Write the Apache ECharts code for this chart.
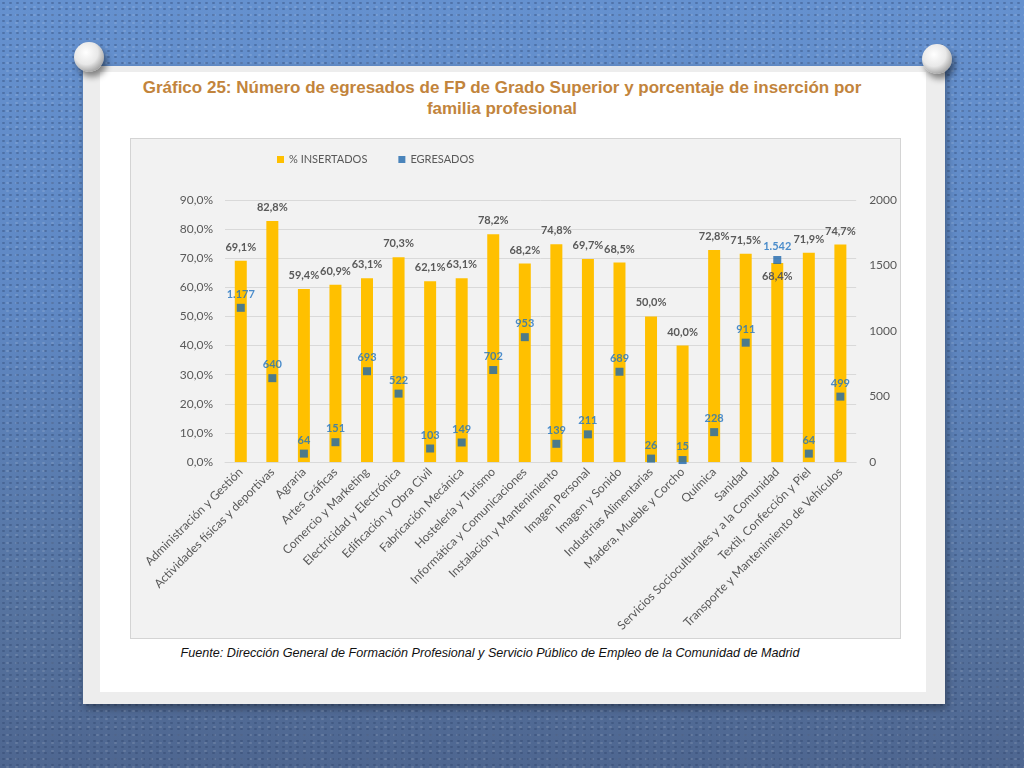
<!DOCTYPE html>
<html>
<head>
<meta charset="utf-8">
<script src="https://cdn.jsdelivr.net/npm/echarts@6/dist/echarts.min.js"></script>
<style>
  html, body { margin:0; padding:0; width:1024px; height:768px; overflow:hidden; }
  #bg { position:absolute; left:0; top:0; width:1024px; height:768px;
        background: linear-gradient(180deg, #6591cf 0%, #5f88c4 40%, #56739f 80%, #4e6690 100%); }
  #tex { position:absolute; left:0; top:0; width:1024px; height:768px;
         background-image: radial-gradient(rgba(40,60,100,0.35) 1px, transparent 1.6px),
                           radial-gradient(rgba(255,255,255,0.12) 1px, transparent 1.6px);
         background-size: 7px 6px, 9px 8px; background-position: 0 0, 3px 3px; }
  #paper { position:absolute; left:83px; top:66px; width:862px; height:638px; background:#ededed;
           box-shadow: 2px 4px 8px rgba(0,0,0,0.35); }
  #inner { position:absolute; left:100px; top:72px; width:826px; height:620px; background:#ffffff; }
  #title { position:absolute; left:100px; top:77px; width:804px; text-align:center;
           font-family:"Liberation Sans", Arial, sans-serif; font-weight:bold; font-size:17px;
           line-height:21px; color:#c2843c; }
  #chartbox { position:absolute; left:130px; top:138px; width:769px; height:499px;
              background:#f2f2f2; border:1px solid #d4d4d4; }
  #chart { position:absolute; left:0; top:0; width:769px; height:499px; }
  #src { position:absolute; left:100px; top:646px; width:780px; text-align:center;
         font-family:"Liberation Sans", Arial, sans-serif; font-style:italic; font-size:12.6px; color:#111; }
  .pin { position:absolute; width:30px; height:30px; border-radius:50%;
         background: radial-gradient(circle at 40% 35%, #ffffff 0%, #e8e8e8 45%, #9a9a9a 80%, #6d6d6d 100%);
         box-shadow: 3px 5px 6px rgba(0,0,0,0.45); }
</style>
</head>
<body>
<div id="bg"></div>
<div id="tex"></div>
<div id="paper"></div>
<div id="inner"></div>
<div class="pin" style="left:74px;top:42px;"></div>
<div class="pin" style="left:922px;top:44px;"></div>
<div id="title">Gráfico 25: Número de egresados de FP de Grado Superior y porcentaje de inserción por<br>familia profesional</div>
<div id="chartbox"><div id="chart"></div></div>
<div id="src">Fuente: Dirección General de Formación Profesional y Servicio Público de Empleo de la Comunidad de Madrid</div>
<script>
const categories = [
  "Administración y Gestión",
  "Actividades físicas y deportivas",
  "Agraria",
  "Artes Gráficas",
  "Comercio y Marketing",
  "Electricidad y Electrónica",
  "Edificación y Obra Civil",
  "Fabricación Mecánica",
  "Hostelería y Turismo",
  "Informática y Comunicaciones",
  "Instalación y Mantenimiento",
  "Imagen Personal",
  "Imagen y Sonido",
  "Industrias Alimentarias",
  "Madera, Mueble y Corcho",
  "Química",
  "Sanidad",
  "Servicios Socioculturales y a la Comunidad",
  "Textil, Confección y Piel",
  "Transporte y Mantenimiento de Vehículos"
];
const insertados = [69.1, 82.8, 59.4, 60.9, 63.1, 70.3, 62.1, 63.1, 78.2, 68.2, 74.8, 69.7, 68.5, 50.0, 40.0, 72.8, 71.5, 68.4, 71.9, 74.7];
const egresados = [1177, 640, 64, 151, 693, 522, 103, 149, 702, 953, 139, 211, 689, 26, 15, 228, 911, 1542, 64, 499];
const leftTicks = [0, 10, 20, 30, 40, 50, 60, 70, 80, 90];
const rightTicks = [0, 500, 1000, 1500, 2000];

const FONT = 'Lato, "Open Sans", sans-serif';
const pctFmt = v => v.toFixed(1).replace('.', ',') + '%';
const thFmt = v => String(v).replace(/\B(?=(\d{3})+(?!\d))/g, '.');

const barData = insertados.map((v, i) => {
  const d = { value: v };
  if (categories[i].startsWith('Servicios')) {
    d.label = { position: 'insideTop', distance: 8 };
  }
  return d;
});

const chart = echarts.init(document.getElementById('chart'));
chart.setOption({
  animation: false,
  backgroundColor: 'transparent',
  textStyle: { fontFamily: FONT },
  legend: {
    top: 10, left: 141, itemWidth: 7, itemHeight: 7, itemGap: 31,
    textStyle: { fontSize: 11, color: '#595959', fontFamily: FONT },
    data: [{ name: '% INSERTADOS', icon: 'rect' }, { name: 'EGRESADOS', icon: 'rect' }]
  },
  grid: { left: 94, right: 42, top: 61, bottom: 176, containLabel: false },
  xAxis: {
    type: 'category', data: categories,
    axisLine: { lineStyle: { color: '#d9d9d9' } },
    axisTick: { show: false },
    axisLabel: { rotate: 45, interval: 0, fontSize: 12, color: '#595959', margin: 8, fontFamily: FONT }
  },
  yAxis: [
    {
      type: 'value', min: leftTicks[0], max: leftTicks[leftTicks.length - 1], interval: 10,
      axisLine: { show: false }, axisTick: { show: false },
      splitLine: { lineStyle: { color: '#d9d9d9' } },
      axisLabel: { formatter: v => v.toFixed(1).replace('.', ',') + '%', fontSize: 12, color: '#595959', margin: 12, fontFamily: FONT }
    },
    {
      type: 'value', min: rightTicks[0], max: rightTicks[rightTicks.length - 1], interval: 500,
      axisLine: { show: false }, axisTick: { show: false },
      splitLine: { show: false },
      axisLabel: { formatter: v => String(v), fontSize: 12, color: '#595959', margin: 13, fontFamily: FONT }
    }
  ],
  series: [
    {
      name: '% INSERTADOS', type: 'bar', yAxisIndex: 0, data: barData,
      barWidth: '38%',
      itemStyle: { color: '#ffc000' },
      label: { show: true, position: 'top', distance: 8, formatter: p => pctFmt(p.value),
               fontSize: 11, fontWeight: 'bold', color: '#595959', fontFamily: FONT },
      z: 2
    },
    {
      name: 'EGRESADOS', type: 'scatter', yAxisIndex: 1, data: egresados,
      symbol: 'rect', symbolSize: 8,
      itemStyle: { color: '#1f68ad' },
      label: { show: true, position: 'top', distance: 4, formatter: p => thFmt(p.value),
               fontSize: 11, fontWeight: 'bold', color: '#1f72c0', fontFamily: FONT },
      z: 3
    }
  ]
});
</script>
</body>
</html>
